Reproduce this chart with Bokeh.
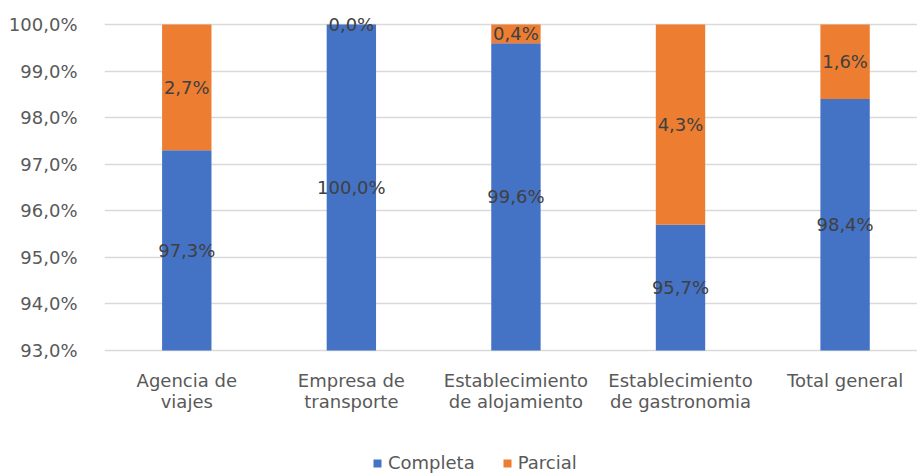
from bokeh.plotting import figure
from bokeh.models import (ColumnDataSource, FixedTicker, CustomJSTickFormatter,
                          Legend, LegendItem, Range1d)
from bokeh.core.properties import value
from bokeh.embed import file_html
from bokeh.resources import INLINE

cat_line1 = ["Agencia de", "Empresa de", "Establecimiento", "Establecimiento", "Total general"]
cat_line2 = ["viajes", "transporte", "de alojamiento", "de gastronomia", ""]
completa = [97.3, 100.0, 99.6, 95.7, 98.4]
parcial = [2.7, 0.0, 0.4, 4.3, 1.6]
y_ticks = [93, 94, 95, 96, 97, 98, 99, 100]

BLUE = "#4472C4"
ORANGE = "#ED7D31"
FONT = "DejaVu Sans"
FS = "18px"
W, H = 917, 474
TOP_PX, BOT_PX = 24, 350          # screen rows of 100% and 93%
K = (BOT_PX - TOP_PX) / 7.0       # px per percentage point

xs = list(range(len(completa)))
base = 93.0
parc_top = [min(c + q, 100.0) for c, q in zip(completa, parcial)]

src = ColumnDataSource(dict(
    x=xs,
    base=[base] * len(xs),
    comp=completa,
    parc=parc_top,
    comp_mid=[(base + c) / 2 for c in completa],
    parc_mid=[(c + t) / 2 for c, t in zip(completa, parc_top)],
    comp_lbl=[("%.1f%%" % c).replace(".", ",") for c in completa],
    parc_lbl=[("%.1f%%" % q).replace(".", ",") for q in parcial],
    l1=cat_line1,
    l2=cat_line2,
    y1=[base - 30 / K] * len(xs),
    y2=[base - 51 / K] * len(xs),
))

p = figure(width=W, height=H, output_backend="svg", toolbar_location=None,
           x_axis_location=None,
           x_range=Range1d(-0.5, 4.44),
           y_range=Range1d(100 - (H - TOP_PX) / K, 100 + TOP_PX / K),
           min_border_left=104, min_border_right=0, min_border_top=0, min_border_bottom=0)
p.outline_line_color = None
p.background_fill_color = "white"

r1 = p.vbar(x="x", bottom="base", top="comp", width=0.30, fill_color=BLUE, line_color=None, source=src)
r2 = p.vbar(x="x", bottom="comp", top="parc", width=0.30, fill_color=ORANGE, line_color=None, source=src)

for ycol, tcol in (("comp_mid", "comp_lbl"), ("parc_mid", "parc_lbl")):
    p.text(x="x", y=ycol, text=tcol, source=src, text_align="center", text_baseline="middle",
           text_font=value(FONT), text_font_size=FS, text_color="#404040")

for ycol, tcol in (("y1", "l1"), ("y2", "l2")):
    p.text(x="x", y=ycol, text=tcol, source=src, text_align="center", text_baseline="alphabetic",
           text_font=value(FONT), text_font_size=FS, text_color="#595959")

p.yaxis.ticker = FixedTicker(ticks=y_ticks)
p.yaxis.formatter = CustomJSTickFormatter(code="return tick.toFixed(1).replace('.', ',') + '%';")
p.yaxis.axis_line_color = None
p.yaxis.major_tick_line_color = None
p.yaxis.minor_tick_line_color = None
p.yaxis.major_label_text_font = FONT
p.yaxis.major_label_text_font_size = FS
p.yaxis.major_label_text_color = "#595959"
p.yaxis.major_label_standoff = 21

p.xgrid.grid_line_color = None
p.ygrid.grid_line_color = "#D9D9D9"
p.ygrid.grid_line_width = 1.5
p.ygrid.ticker = FixedTicker(ticks=y_ticks)

legend = Legend(items=[LegendItem(label="Completa", renderers=[r1]),
                       LegendItem(label="Parcial", renderers=[r2])],
                orientation="horizontal", location=(268, 1),
                label_text_font=FONT, label_text_font_size=FS, label_text_color="#595959",
                glyph_width=10, glyph_height=10, spacing=27, border_line_color=None,
                background_fill_alpha=0, padding=0, margin=0, label_standoff=6)
p.add_layout(legend, "center")

open("out.html", "w").write(file_html(p, INLINE))
